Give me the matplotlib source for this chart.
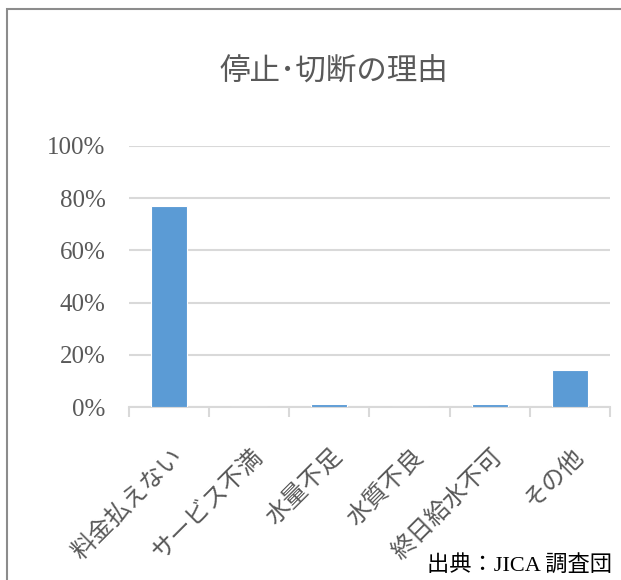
import matplotlib.pyplot as plt
from matplotlib.patches import Rectangle
import numpy as np

categories = ['料金払えない', 'サービス不満', '水量不足', '水質不良', '終日給水不可', 'その他']
values = [0.77, 0.0, 0.013, 0.0, 0.013, 0.143]
yticks = [0, 0.2, 0.4, 0.6, 0.8, 1.0]
ytick_labels = ['0%', '20%', '40%', '60%', '80%', '100%']

jp = ['Noto Sans CJK JP', 'DejaVu Sans']
serif = ['Liberation Serif', 'Noto Sans CJK JP']
grey = '#595959'

fig = plt.figure(figsize=(6.21, 5.80), dpi=100)
ax = fig.add_axes([129 / 621, 1 - 407 / 580, (610 - 129) / 621, (407 - 146) / 580])

x = np.arange(len(categories))
ax.bar(x, values, width=0.45, color='#5b9bd5', edgecolor='white', linewidth=0.8, zorder=3)

ax.set_xlim(-0.5, len(categories) - 0.5)
ax.set_ylim(0, 1)
ax.set_yticks(yticks)
ax.set_yticklabels(ytick_labels, family=serif, fontsize=18, color=grey)
ax.yaxis.grid(True, color='#d9d9d9', linewidth=1.5, zorder=0)
ax.tick_params(axis='y', length=0, pad=17)

ax.set_xticks(x)
ax.set_xticklabels(categories, family=jp, fontsize=17.5, color=grey,
                   rotation=45, ha='right', rotation_mode='anchor')
ax.set_xticks(np.arange(len(categories) + 1) - 0.5, minor=True)
ax.tick_params(axis='x', which='major', length=0, pad=26)
ax.tick_params(axis='x', which='minor', length=7, width=1.5, color='#d9d9d9')

for s in ['top', 'right', 'left']:
    ax.spines[s].set_visible(False)
ax.spines['bottom'].set_color('#d9d9d9')
ax.spines['bottom'].set_linewidth(1.5)

fig.text(334 / 621, 1 - 72 / 580, '停止･切断の理由', family=jp, fontsize=22,
         color=grey, ha='center', va='center')
fig.text(612 / 621, 1 - 565 / 580, '出典：JICA 調査団', family=serif, fontsize=16,
         color='black', ha='right', va='center')

fig.patches.append(Rectangle((7 / 621, -0.1), 1.1, 1 - 9 / 580 + 0.1, transform=fig.transFigure,
                             fill=False, edgecolor='#8c8c8c', linewidth=1.5))

fig.savefig('out.png', dpi=100)
